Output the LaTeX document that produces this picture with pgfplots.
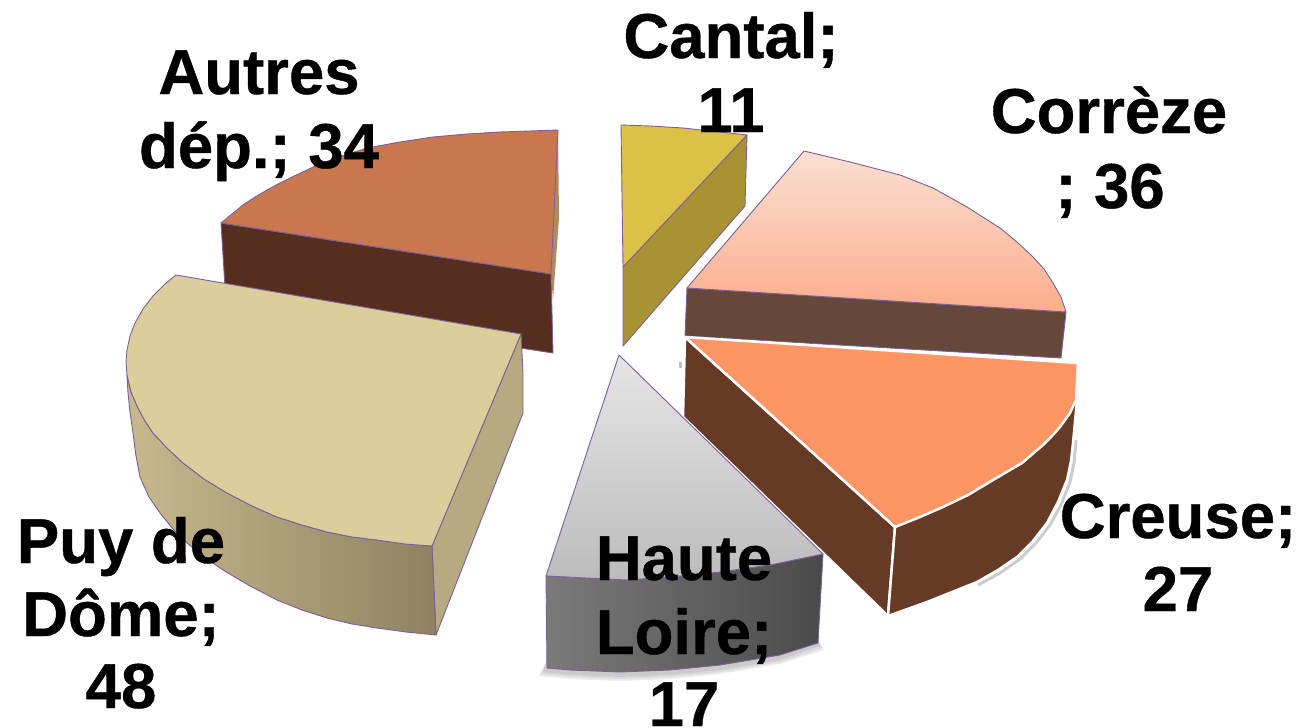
\documentclass[border=0pt]{standalone}
\usepackage{pgfplots}
\pgfplotsset{compat=1.18}
\usepackage{fontspec}
\setmainfont{Liberation Sans}[BoldFeatures={FakeBold=0.6}]

\definecolor{edge}{HTML}{7C5F9C}
\definecolor{autside}{HTML}{B08A60}
\definecolor{autfront}{HTML}{552E20}
\definecolor{auttop}{HTML}{C9774F}
\definecolor{puyside}{HTML}{B7AA80}
\definecolor{puyfrontl}{HTML}{C7B98C}
\definecolor{puyfrontr}{HTML}{8E8262}
\definecolor{puytop}{HTML}{DCCE9B}
\definecolor{canside}{HTML}{A89233}
\definecolor{cantop}{HTML}{DCC146}
\definecolor{corfront}{HTML}{65483A}
\definecolor{cortopa}{HTML}{FADFD2}
\definecolor{cortopb}{HTML}{FBAD8B}
\definecolor{creside}{HTML}{673A25}
\definecolor{cretop}{HTML}{FD9664}
\definecolor{haufrontl}{HTML}{7A7A7A}
\definecolor{haufrontr}{HTML}{4A4A4A}
\definecolor{hautopa}{HTML}{E5E5E5}
\definecolor{hautopb}{HTML}{BCBCBC}
\tikzset{lab/.style={anchor=base,inner sep=0pt,font=\fontsize{63.5}{74}\selectfont\bfseries}}
\pgfplotsset{face/.style={no markers,sharp plot,line join=round,draw=edge,line width=0.9pt},
  wface/.style={no markers,sharp plot,line join=round,draw=white,line width=2.5pt},
  blur/.style={no markers,sharp plot,draw=none,fill=gray,opacity=0.16}}

\begin{document}
\begin{tikzpicture}
\begin{axis}[anchor=south west, at={(0,0)}, scale only axis, width=1304pt, height=728pt,
  xmin=0, xmax=1304, ymin=0, ymax=728, y dir=reverse, hide axis, clip=false]

% Autres dep.
\addplot[no markers,sharp plot,draw=none,fill=autside] coordinates {
  (558,130) (559,218) (553,300) (551,274)} -- cycle;
\addplot[face,fill=autfront] coordinates {
  (221,223) (551,274) (553,353) (226,303)} -- cycle;
\addplot[face,fill=auttop] coordinates {
  (221,223) (232,214) (243,205) (255,197) (267,190) (280,183) (292,177) (305,171) (317,165) (342,156)
  (367,148) (400,142) (433,137) (467,134) (500,132) (530,131) (558,130) (551,274)} -- cycle;

% Puy de Dome
\addplot[face,fill=puyside] coordinates {
  (521,334) (523,373) (523,413) (436,635) (432,546)} -- cycle;
\addplot[face,left color=puyfrontl,right color=puyfrontr] coordinates {
  (127,375) (128,393) (130,412) (133,433) (136,456) (140,477) (149,497) (160,513) (173,529) (187,543)
  (204,557) (223,570) (250,586) (277,600) (302,610) (327,618) (352,624) (377,628) (406,632) (436,635)
  (432,546) (405,544) (377,540) (352,537) (327,532) (302,525) (277,517) (252,506) (227,493) (204,479)
  (183,463) (167,448) (153,433) (145,421) (138,408) (131,392)} -- cycle;
\addplot[face,fill=puytop] coordinates {
  (176,275) (165,284) (153,296) (143,309) (135,323) (130,336) (127,350) (126,362) (127,375) (131,392)
  (138,408) (145,421) (153,433) (167,448) (183,463) (204,479) (227,493) (252,506) (277,517) (302,525)
  (327,532) (352,537) (377,540) (405,544) (432,546) (521,334)} -- cycle;

% Cantal
\addplot[face,fill=canside] coordinates {
  (747,135) (745,206) (623,346) (623,267)} -- cycle;
\addplot[face,fill=cantop] coordinates {
  (621,125) (650,126) (683,128) (720,132) (747,135) (623,267)} -- cycle;

% Correze
\addplot[face,fill=corfront] coordinates {
  (687,288) (1066,312) (1061,358) (685,336)} -- cycle;
\addplot[face,top color=cortopa,bottom color=cortopb] coordinates {
  (687,288) (804,151) (850,162) (900,175) (933,188) (967,207) (1000,228) (1017,242) (1033,257)
  (1044,269) (1053,283) (1061,297) (1066,312)} -- cycle;

% Creuse
\addplot[no markers,sharp plot,draw=gray,line width=3pt,opacity=0.4] coordinates {
  (1076,440) (1074,463) (1070,482) (1061,505) (1050,525) (1036,543) (1020,559) (1000,573) (978,585)};
\addplot[no markers,sharp plot,draw=none,fill=gray!50] coordinates {
  (679,362) (682,362) (682,368) (679,368)} -- cycle;
\addplot[wface,fill=creside] coordinates {
  (685,337) (895,527) (888,616) (683,417)} -- cycle;
\addplot[wface,fill=creside] coordinates {
  (895,527) (888,616) (927,602) (977,582) (998,570) (1017,557) (1033,541) (1047,523) (1058,502)
  (1067,480) (1071,461) (1073,443) (1077,400)} -- cycle;
\addplot[wface,fill=cretop] coordinates {
  (685,337) (1078,363) (1076,400) (1070,413) (1060,427) (1052,436) (1043,445) (1022,463) (993,480)
  (968,495) (943,507) (920,517) (895,527)} -- cycle;

% Haute Loire
\addplot[blur] coordinates {
  (539,676) (570,679) (620,681) (670,679) (720,674) (780,664) (824,650) (818,640) (547,660)} -- cycle;
\addplot[blur] coordinates {
  (541,674) (570,677) (620,679) (670,677) (720,672) (780,662) (822,648) (818,640) (547,660)} -- cycle;
\addplot[blur] coordinates {
  (543,672) (570,675) (620,677) (670,675) (720,670) (780,660) (820,646) (818,640) (547,660)} -- cycle;
\addplot[face,left color=haufrontl,right color=haufrontr] coordinates {
  (546,576) (587,578) (627,580) (670,577) (720,572) (770,565) (823,554) (818,643) (780,655)
  (720,665) (670,670) (620,672) (570,670) (547,668)} -- cycle;
\addplot[face,top color=hautopa,bottom color=hautopb] coordinates {
  (619,355) (823,554) (770,565) (720,572) (670,577) (627,580) (587,578) (546,576)} -- cycle;

\node[lab] at (axis cs:731,58) {Cantal;};
\node[lab] at (axis cs:731,132) {11};
\node[lab] at (axis cs:1109,133) {Corrèze};
\node[lab] at (axis cs:1110,208) {; 36};
\node[lab] at (axis cs:1178,538) {Creuse;};
\node[lab] at (axis cs:1178,611) {27};
\node[lab] at (axis cs:684,580) {Haute};
\node[lab] at (axis cs:684,654) {Loire;};
\node[lab] at (axis cs:684,726) {17};
\node[lab] at (axis cs:121,563) {Puy de};
\node[lab] at (axis cs:121,636) {Dôme;};
\node[lab] at (axis cs:121,708) {48};
\node[lab] at (axis cs:259,94) {Autres};
\node[lab] at (axis cs:259,168) {dép.; 34};
\end{axis}
\pgfresetboundingbox
\path (0,0) rectangle (1304pt,728pt);
\end{tikzpicture}
\end{document}
